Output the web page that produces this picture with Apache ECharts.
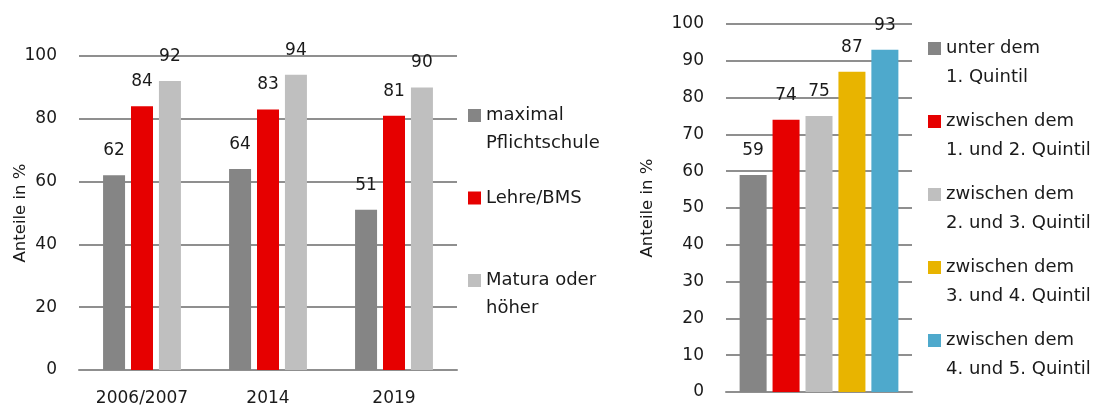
<!DOCTYPE html>
<html>
<head>
<meta charset="utf-8">
<script src="https://cdn.jsdelivr.net/npm/echarts@6/dist/echarts.min.js"></script>
<style>
    html, body { margin: 0; padding: 0; background: #fff; }
    #chart { width: 1099px; height: 407px; }
</style>
</head>
<body>
<div id="chart"></div>
<script>
// linkes Diagramm: nach Bildungsabschluss
const years = ['2006/2007', '2014', '2019'];
const eduNames = ['maximal\nPflichtschule', 'Lehre/BMS', 'Matura oder\nhöher'];
const eduPflicht = [62, 64, 51];
const eduLehre = [84, 83, 81];
const eduMatura = [92, 94, 90];

// rechtes Diagramm: nach Einkommensquintil
const quintilNames = [
    'unter dem\n1. Quintil',
    'zwischen dem\n1. und 2. Quintil',
    'zwischen dem\n2. und 3. Quintil',
    'zwischen dem\n3. und 4. Quintil',
    'zwischen dem\n4. und 5. Quintil'
];
const quintilValues = [59, 74, 75, 87, 93];

const yTicksLeft = { min: 0, max: 100, interval: 20 };
const yTicksRight = { min: 0, max: 100, interval: 10 };

const font = 'DejaVu Sans';
const textColor = '#1a1a1a';
const gridColor = '#8f8f8f';
const eduColors = ['#858585', '#e60000', '#bfbfbf'];
const quintilColors = ['#858585', '#e60000', '#bfbfbf', '#e8b400', '#4ea9cc'];

const chart = echarts.init(document.getElementById('chart'));

function yAxis(gridIndex, ticks, nameGap) {
    return {
        type: 'value',
        gridIndex,
        min: ticks.min,
        max: ticks.max,
        interval: ticks.interval,
        name: 'Anteile in %',
        nameLocation: 'middle',
        nameRotate: 90,
        nameGap,
        nameMoveOverlap: false,
        nameTextStyle: { fontFamily: font, fontSize: 16.5, color: textColor },
        axisLine: { show: false },
        axisTick: { show: false },
        axisLabel: { fontFamily: font, fontSize: 17, color: textColor, margin: 22 },
        splitLine: { lineStyle: { color: gridColor, width: 2 } }
    };
}

function barLabel() {
    return {
        show: true,
        position: 'top',
        distance: 16,
        fontFamily: font,
        fontSize: 17,
        color: textColor
    };
}

// Legendentext so setzen, dass die erste Zeile neben dem Kästchen steht
function legendLabel(name) {
    return ' \n' + name + (name.includes('\n') ? '' : '\n ');
}

const series = [];
[eduPflicht, eduLehre, eduMatura].forEach((values, i) => {
    series.push({
        name: eduNames[i],
        type: 'bar',
        xAxisIndex: 0,
        yAxisIndex: 0,
        barWidth: 22,
        barGap: '27%',
        itemStyle: { color: eduColors[i] },
        label: barLabel(),
        data: values
    });
});
quintilValues.forEach((value, i) => {
    series.push({
        name: quintilNames[i],
        type: 'bar',
        xAxisIndex: 1,
        yAxisIndex: 1,
        barWidth: 27,
        barGap: '22%',
        itemStyle: { color: quintilColors[i] },
        label: barLabel(),
        data: [value]
    });
});

const legendText = { fontFamily: font, fontSize: 18, color: textColor };

chart.setOption({
    animation: false,
    grid: [
        { left: 79, right: 642, top: 56, bottom: 37 },
        { left: 726, right: 187, top: 24, bottom: 15 }
    ],
    xAxis: [
        {
            type: 'category',
            gridIndex: 0,
            data: years,
            axisLine: { lineStyle: { color: gridColor, width: 2 } },
            axisTick: { show: false },
            axisLabel: { fontFamily: font, fontSize: 17, color: textColor, margin: 20 }
        },
        {
            type: 'category',
            gridIndex: 1,
            data: [''],
            axisLine: { lineStyle: { color: gridColor, width: 2 } },
            axisTick: { show: false },
            axisLabel: { show: false }
        }
    ],
    yAxis: [yAxis(0, yTicksLeft, 50), yAxis(1, yTicksRight, 70)],
    legend: [
        {
            orient: 'vertical',
            left: 468,
            top: 73.5,
            padding: 0,
            itemWidth: 13,
            itemHeight: 13,
            itemGap: -1.5,
            icon: 'rect',
            selectedMode: false,
            formatter: legendLabel,
            textStyle: Object.assign({ lineHeight: 28 }, legendText),
            data: eduNames
        },
        {
            orient: 'vertical',
            left: 928,
            top: 5,
            padding: 0,
            itemWidth: 13,
            itemHeight: 13,
            itemGap: -14,
            icon: 'rect',
            selectedMode: false,
            formatter: legendLabel,
            textStyle: Object.assign({ lineHeight: 29 }, legendText),
            data: quintilNames
        }
    ],
    series
});
</script>
</body>
</html>
